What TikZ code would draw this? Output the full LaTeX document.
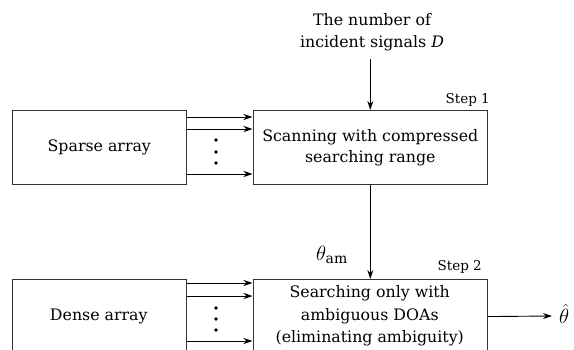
\documentclass[tikz,border=0pt]{standalone}
\usepackage{fontspec}
\setmainfont{DejaVu Serif}
\newfontfamily\serfont{DejaVu Serif}
\usetikzlibrary{arrows.meta}
\tikzset{
  blk/.style={draw=black!80, line width=1.1pt, minimum height=74pt, align=center, inner sep=0pt},
  arr/.style={-{Stealth[length=9pt,width=6pt]}, line width=0.9pt},
  dotmark/.style={circle, fill=black, inner sep=0pt, minimum size=3.8pt},
  txt/.style={font=\serfont\fontsize{15.8}{21.5}\selectfont, align=center},
  steplbl/.style={font=\serfont\fontsize{13.5}{18}\selectfont, inner sep=0pt}
}
\begin{document}
\begin{tikzpicture}[x=1pt,y=-1pt]
\useasboundingbox (0,0) rectangle (574,349);
\begin{scope}
\clip (0,0) rectangle (574,349);
% boxes
\node[blk, txt, minimum width=174.5pt, anchor=north west] (sparse) at (11.5,110) {Sparse array};
\node[blk, txt, minimum width=234.5pt, anchor=north west] (scan) at (252.5,110) {Scanning with compressed\\searching range};
\node[blk, minimum width=174.5pt, anchor=north west] (dense) at (11.5,279) {};
\node[txt] (densetxt) at (98.75,316) {Dense array};
\node[blk, minimum width=234.5pt, anchor=north west] (search) at (252.5,279) {};
\node[txt, font=\serfont\fontsize{15.8}{22.5}\selectfont] (searchtxt) at (369.75,316) {Searching only with\\ambiguous DOAs\\(eliminating ambiguity)};
% step labels
\node[steplbl, anchor=east] (s1) at (490,100) {Step 1};
\node[steplbl, anchor=east] (s2) at (482,267) {Step 2};
% input text
\node[txt] (num) at (372,32) {The number of\\incident signals \textit{D}};
\coordinate (numend) at (scan.north |- 0,59);
\draw[arr] (numend) -- (scan.north);
% sparse -> scan arrows
\foreach \y in {117,129,174} {
  \draw[arr] (sparse.east |- 0,\y) -- (scan.west |- 0,\y);
}
\foreach \y/\n in {140/a,152/b,163/c} {
  \node[dotmark] (sd\n) at (216,\y) {};
}
% dense -> search arrows
\foreach \y in {283,296,341} {
  \draw[arr] (dense.east |- 0,\y) -- (search.west |- 0,\y);
}
\foreach \y/\n in {308/a,319/b,330/c} {
  \node[dotmark] (dd\n) at (216,\y) {};
}
% step1 -> step2
\draw[arr] (scan.south) -- (search.north);
\node[font=\fontsize{20}{22}\selectfont] (tham) at (332,255) {$\theta_{\mathrm{am}}$};
% output
\node[font=\fontsize{20}{22}\selectfont, anchor=west, inner sep=0pt] (out) at (559,314) {$\hat{\theta}$};
\coordinate (outend) at (552,316);
\draw[arr] (search.east) -- (outend);
\end{scope}
\end{tikzpicture}
\end{document}
